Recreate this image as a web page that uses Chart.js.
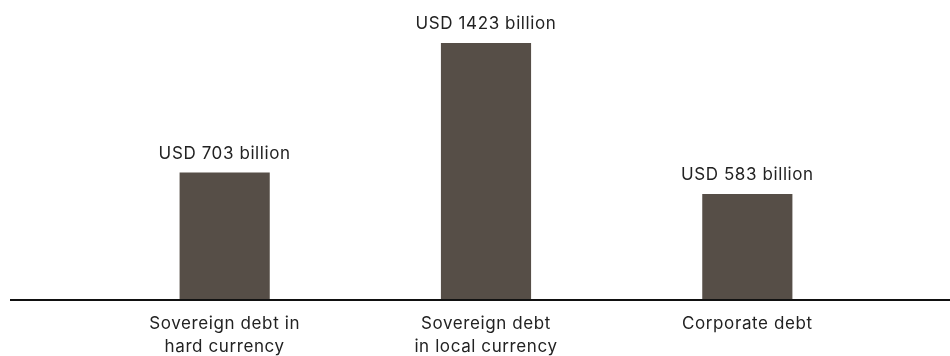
<!DOCTYPE html>
<html>
<head>
<meta charset="utf-8">
<script src="https://cdn.jsdelivr.net/npm/chart.js@4"></script>
<style>
  html, body { margin: 0; padding: 0; background: #fff; }
  #wrap { width: 950px; height: 356px; position: relative; }
</style>
</head>
<body>
<div id="wrap"><canvas id="chart"></canvas></div>
<script>
// ---------- Data ----------
const categories = [
  ['Sovereign debt in', 'hard currency'],
  ['Sovereign debt', 'in local currency'],
  ['Corporate debt']
];
const values = [703, 1423, 583];
const valueLabels = values.map(v => 'USD ' + v + ' billion');

const FONT = 'Inter, "Liberation Sans", sans-serif';
const FONT_SIZE = 17;
const SPACING = '0.6px';
const BAR = '#564e47';

// slightly wider letter spacing for all canvas text
const spacingPlugin = {
  id: 'spacing',
  beforeInit(chart) { chart.ctx.letterSpacing = SPACING; },
  beforeDraw(chart) { chart.ctx.letterSpacing = SPACING; }
};

// value labels above bars
const valueLabelPlugin = {
  id: 'valueLabels',
  afterDatasetsDraw(chart) {
    const ctx = chart.ctx;
    const meta = chart.getDatasetMeta(0);
    ctx.save();
    ctx.font = FONT_SIZE + 'px ' + FONT;
    ctx.fillStyle = '#222';
    ctx.textAlign = 'center';
    ctx.textBaseline = 'alphabetic';
    meta.data.forEach((bar, i) => {
      ctx.fillText(valueLabels[i], bar.x, bar.y - 14);
    });
    ctx.restore();
  }
};

// long baseline across the page at value 0
const baselinePlugin = {
  id: 'baseline',
  afterDatasetsDraw(chart) {
    const ctx = chart.ctx;
    const y = chart.scales.y.getPixelForValue(0);
    ctx.save();
    ctx.strokeStyle = '#111';
    ctx.lineWidth = 2;
    ctx.beginPath();
    ctx.moveTo(10, y + 1);
    ctx.lineTo(chart.width, y + 1);
    ctx.stroke();
    ctx.restore();
  }
};

new Chart(document.getElementById('chart'), {
  type: 'bar',
  data: {
    labels: categories,
    datasets: [{
      data: values,
      backgroundColor: BAR,
      borderWidth: 0,
      barPercentage: 0.345,
      categoryPercentage: 1
    }]
  },
  options: {
    responsive: true,
    maintainAspectRatio: false,
    animation: false,
    layout: { padding: { left: 94, right: 72, top: 0, bottom: 0 } },
    plugins: { legend: { display: false }, tooltip: { enabled: false } },
    scales: {
      x: {
        grid: { display: false, drawTicks: false },
        border: { display: false },
        ticks: { color: '#222', font: { family: FONT, size: FONT_SIZE, lineHeight: 1.36 }, padding: 13, maxRotation: 0, autoSkip: false },
        afterFit(scale) { scale.height = 57; }
      },
      y: {
        display: false,
        min: 0,
        max: 1662
      }
    }
  },
  plugins: [spacingPlugin, valueLabelPlugin, baselinePlugin]
});
</script>
</body>
</html>
